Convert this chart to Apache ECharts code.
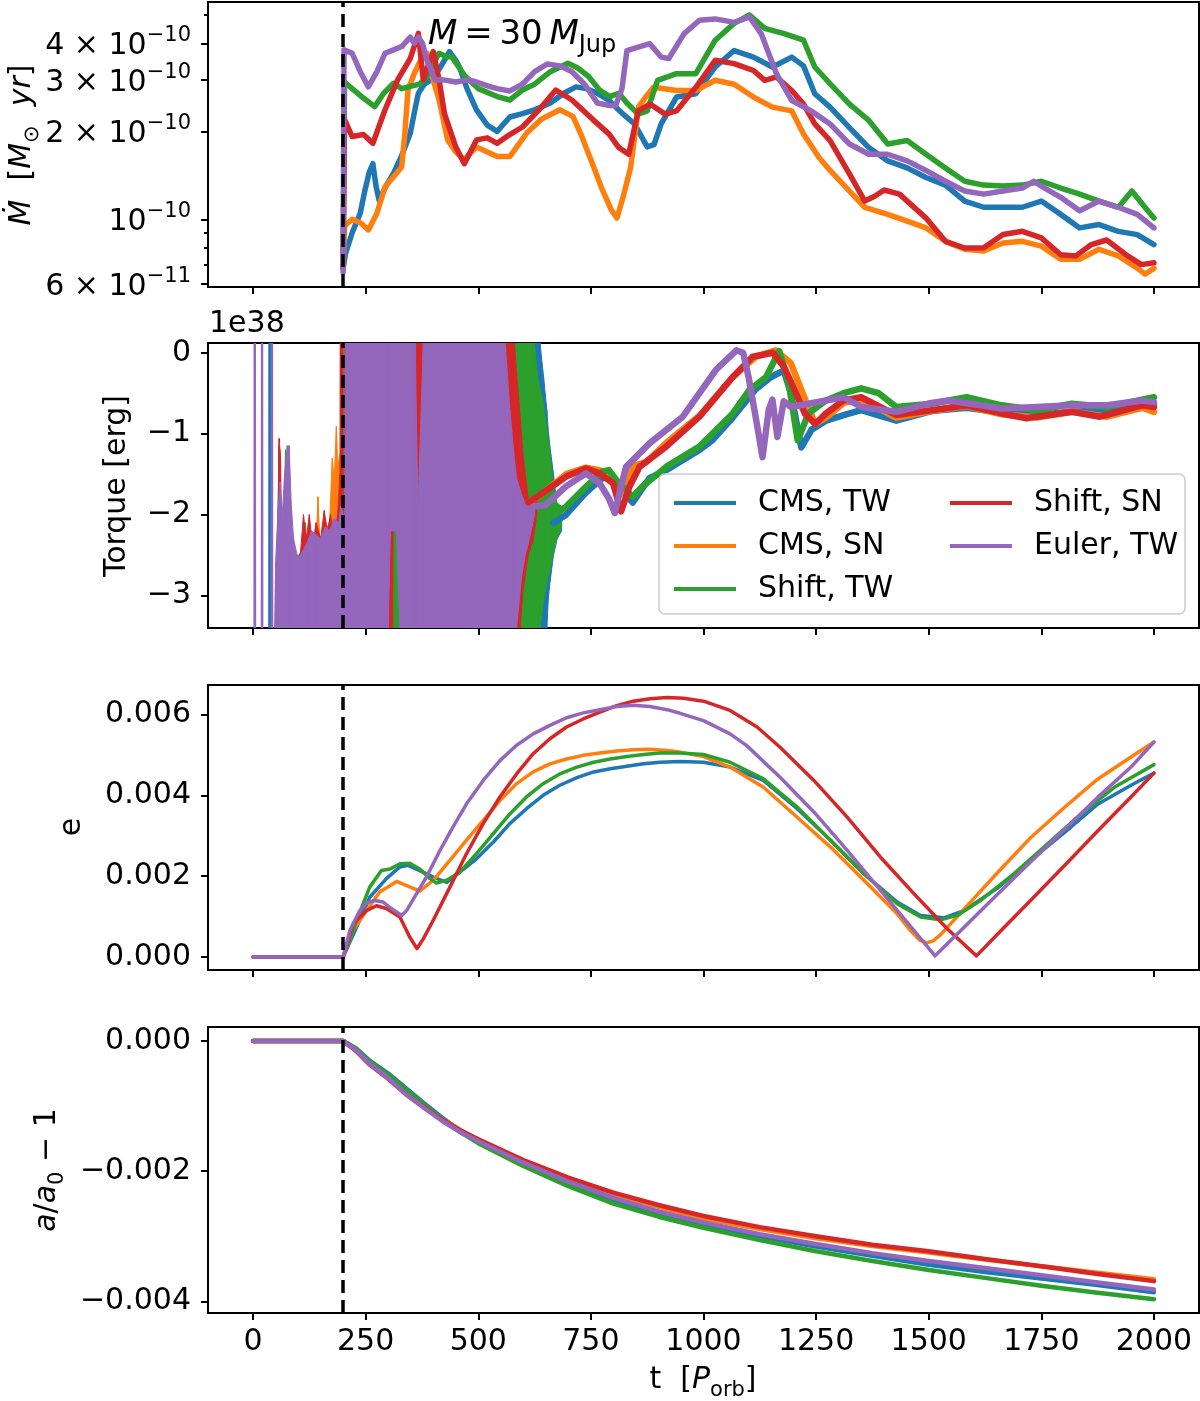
<!DOCTYPE html>
<html><head><meta charset="utf-8">
<script src="https://cdn.jsdelivr.net/npm/echarts@6/dist/echarts.min.js"></script>
<style>html,body{margin:0;padding:0;background:#fff}#c{width:1200px;height:1401px}</style>
</head><body><div id="c"></div>
<script>
// ---------------- DATA ----------------
const seriesNames = ['CMS, TW', 'CMS, SN', 'Shift, TW', 'Shift, SN', 'Euler, TW'];
const tTicks = [0, 250, 500, 750, 1000, 1250, 1500, 1750, 2000];

// Mdot in units of 1e-10 Msun/yr : [t, value]
const mdotUnit = 1e-10;
const mdotCmsTw = [[200,0.68],[205,0.76],[220,0.9],[238,1.05],[248,1.25],[258,1.45],[266,1.55],[273,1.3],[280,1.16],[295,1.3],[312,1.44],[330,1.65],[349,1.97],[360,2.4],[367,2.7],[380,2.9],[395,3.0],[415,3.3],[436,3.75],[450,3.5],[459,3.3],[475,2.8],[496,2.37],[520,2.1],[542,2.0],[570,2.24],[598,2.3],[625,2.37],[660,2.5],[690,2.7],[717,2.84],[740,2.8],[764,2.7],[790,2.55],[819,2.31],[847,2.12],[875,1.77],[890,1.8],[906,2.12],[940,2.62],[983,2.69],[1026,3.32],[1068,3.78],[1111,3.59],[1153,3.32],[1196,3.59],[1222,3.35],[1247,2.69],[1281,2.42],[1324,2.06],[1367,1.76],[1409,1.585],[1452,1.5],[1494,1.39],[1537,1.31],[1580,1.155],[1622,1.1],[1665,1.1],[1708,1.1],[1750,1.155],[1793,1.04],[1835,0.935],[1878,0.96],[1921,0.91],[1963,0.887],[2000,0.82]];
const mdotCmsSn = [[200,0.68],[203,0.95],[220,1.0],[240,0.97],[256,0.92],[275,1.05],[293,1.29],[312,1.4],[330,1.51],[337,1.97],[344,2.77],[358,3.16],[372,3.5],[386,3.7],[400,3.0],[413,2.56],[432,1.87],[450,1.7],[469,1.6],[496,1.77],[520,1.7],[542,1.64],[570,1.64],[607,1.97],[640,2.2],[681,2.37],[710,2.25],[727,1.97],[750,1.6],[773,1.29],[795,1.08],[808,1.01],[822,1.2],[838,1.5],[856,2.43],[870,2.6],[889,2.83],[940,2.76],[983,2.76],[1026,2.99],[1068,2.9],[1111,2.62],[1153,2.42],[1196,2.35],[1222,1.96],[1256,1.63],[1281,1.47],[1324,1.25],[1358,1.1],[1409,1.04],[1452,0.986],[1494,0.935],[1537,0.841],[1580,0.79],[1622,0.78],[1665,0.83],[1708,0.841],[1750,0.81],[1793,0.73],[1835,0.73],[1878,0.79],[1921,0.75],[1963,0.681],[1980,0.65],[2000,0.68]];
const mdotShiftTw = [[200,0.68],[203,2.95],[220,2.8],[245,2.6],[270,2.43],[290,2.7],[312,2.92],[330,2.8],[349,2.85],[370,2.9],[386,3.08],[400,3.4],[413,3.7],[430,3.6],[441,3.6],[470,3.1],[500,2.8],[542,2.63],[570,2.56],[598,2.77],[625,2.9],[660,3.2],[699,3.42],[720,3.3],[745,3.08],[770,2.76],[792,2.63],[812,2.7],[830,2.5],[855,2.29],[875,2.35],[898,2.99],[940,3.15],[983,3.15],[1026,4.1],[1068,4.68],[1102,5.0],[1136,4.5],[1179,4.32],[1222,4.1],[1247,3.32],[1281,2.91],[1324,2.48],[1367,2.18],[1409,1.81],[1452,1.86],[1494,1.67],[1537,1.5],[1580,1.35],[1622,1.31],[1665,1.3],[1708,1.31],[1750,1.35],[1793,1.28],[1835,1.22],[1878,1.155],[1921,1.1],[1951,1.25],[1980,1.1],[2000,1.01]];
const mdotShiftSn = [[200,0.68],[203,2.2],[220,1.92],[245,1.95],[266,1.82],[293,2.37],[321,3.0],[349,3.55],[367,4.33],[378,3.0],[390,3.4],[400,3.75],[413,3.0],[425,2.3],[450,1.77],[469,1.55],[496,1.87],[520,1.9],[542,1.82],[570,1.95],[598,2.07],[635,2.37],[672,2.77],[708,2.56],[755,2.19],[790,1.96],[812,1.76],[834,1.67],[855,2.35],[881,2.48],[915,2.29],[940,2.35],[983,2.83],[1026,3.5],[1068,3.41],[1111,3.23],[1136,2.99],[1162,3.07],[1196,2.76],[1222,2.48],[1247,2.12],[1281,1.86],[1324,1.43],[1358,1.155],[1380,1.2],[1401,1.26],[1435,1.22],[1494,1.01],[1537,0.841],[1580,0.798],[1622,0.8],[1665,0.887],[1708,0.91],[1750,0.864],[1793,0.757],[1827,0.75],[1861,0.82],[1895,0.85],[1938,0.757],[1972,0.7],[2000,0.71]];
const mdotEulerTw = [[200,0.66],[202,3.8],[220,3.7],[238,3.2],[256,2.84],[275,3.2],[293,3.7],[312,3.8],[330,3.9],[349,4.2],[358,4.0],[367,4.2],[376,4.0],[386,3.5],[404,3.0],[423,3.0],[450,2.95],[478,3.0],[496,2.95],[524,2.85],[542,2.8],[570,2.75],[598,2.9],[625,3.2],[653,3.4],[681,3.35],[708,3.2],[736,2.9],[764,2.5],[792,2.45],[805,2.45],[819,2.8],[830,3.78],[855,3.88],[881,3.99],[906,3.59],[923,3.55],[957,4.32],[991,4.8],[1026,4.85],[1068,4.72],[1102,4.93],[1128,4.32],[1162,3.15],[1196,2.55],[1239,2.35],[1281,2.12],[1324,1.81],[1367,1.67],[1409,1.67],[1452,1.585],[1494,1.47],[1537,1.35],[1580,1.25],[1622,1.22],[1665,1.25],[1708,1.28],[1733,1.35],[1750,1.3],[1793,1.19],[1835,1.07],[1878,1.155],[1921,1.1],[1963,1.04],[2000,0.935]];
const mdotLabelTicks = [6e-11, 1e-10, 2e-10, 3e-10, 4e-10];
const mdotMinorTicks = [7e-11, 8e-11, 9e-11, 5e-10];

// Torque in units of 1e38 erg. Bands: [t, low, high] envelope of the fast oscillation; lines: [t, value]
const torqueBandCmsTw = [[35,-5,-5],[36,-5,5],[38,-5,5],[39,-5,-5],[50,-5,-3.4],[58,-5,-1.15],[62,-5,-2.6],[100,-5,-2.6],[200,-5,-2.6],[206,-5,5],[632,-5,5],[637,-5,0.12],[645,-5,-0.3],[652,-3.4,-0.7],[656,-3.0,-1.0],[660,-2.8,-1.2],[667,-2.5,-1.5],[675,-2.3,-1.9],[685,-2.2,-1.95]];
const torqueBandCmsSn = [[50,-5,-3.4],[56,-5,-2.4],[60,-5,-1.2],[63,-5,-2.5],[100,-5,-2.5],[140,-5,-2.4],[144,-5,-1.78],[148,-5,-2.3],[170,-5,-2.1],[176,-5,-1.3],[180,-5,-1.6],[185,-5,-0.91],[188,-5,-1.4],[195,-5,-1.2],[200,-5,-1.6],[206,-5,5],[575,-5,5],[580,-5,0.12],[600,-3.0,-1.3],[611,-2.5,-1.8],[620,-2.2,-1.8]];
const torqueBandShiftTw = [[55,-5,-3.4],[68,-5,-2.6],[72,-5,-1.2],[75,-5,-1.5],[78,-5,-2.7],[95,-5,-2.6],[110,-5,-2.4],[116,-5,-2.1],[120,-5,-2.5],[150,-5,-2.6],[180,-5,-2.4],[200,-5,-2.5],[206,-5,5],[620,-5,5],[624,-5,0.12],[632,-5,-0.3],[637,-3.4,-0.45],[644,-3.1,-0.6],[650,-2.9,-0.85],[656,-2.75,-1.1],[662,-2.6,-1.4],[667,-2.45,-1.66],[674,-2.3,-1.85],[685,-2.15,-1.9]];
const torqueBandShiftSn = [[50,-5,-3.4],[55,-5,-2.5],[58,-5,-1.06],[61,-5,-1.3],[64,-5,-2.6],[70,-5,-2.0],[73,-5,-1.6],[76,-5,-2.2],[85,-5,-2.5],[95,-5,-2.7],[105,-5,-2.5],[112,-5,-2.0],[118,-5,-2.3],[125,-5,-2.0],[132,-5,-2.4],[140,-5,-2.1],[150,-5,-2.3],[158,-5,-1.95],[165,-5,-2.2],[172,-5,-2.0],[180,-5,-2.3],[188,-5,-2.0],[193,-5,-1.5],[195,-5,5],[198,-5,5],[200,-5,-2.0],[203,-5,-2.5],[206,-5,5],[309,-5,5],[311,-2.1,5],[326,-2.1,5],[328,-5,5],[575,-5,5],[580,-5,0.12],[590,-5,-0.6],[593,-3.4,-0.8],[600,-2.9,-1.3],[611,-2.5,-1.8],[622,-2.3,-1.8],[630,-2.0,-1.8]];
const torqueBandEulerTw = [[2,-5,-5],[3,-5,5],[5,-5,5],[6,-5,-5],[18,-5,-5],[19,-5,5],[21,-5,5],[22,-5,-5],[40,-5,-5],[41,-5,5],[43,-5,5],[44,-5,-5],[47,-5,-5],[48,-5,-3.4],[50,-5,-2.6],[55,-5,-2.0],[60,-5,-1.6],[65,-5,-2.0],[70,-5,-1.5],[76,-5,-1.15],[80,-5,-1.15],[85,-5,-1.9],[90,-5,-2.3],[100,-5,-2.55],[110,-5,-2.45],[120,-5,-2.35],[130,-5,-2.2],[140,-5,-2.25],[150,-5,-2.3],[160,-5,-2.15],[170,-5,-2.2],[180,-5,-2.05],[190,-5,-2.1],[195,-5,-1.9],[200,-5,-2.0],[203,-5,-3.0],[206,-5,5],[240,-5,5],[241,-5,-0.3],[243,-5,5],[298,-5,5],[300,-3.4,5],[305,-2.2,5],[318,-2.2,5],[326,-3.4,5],[328,-5,5],[358,-5,5],[360,-5,0.12],[366,-5,-1.95],[378,-5,0.12],[380,-5,5],[555,-5,5],[560,-5,0.1],[570,-5,-0.7],[580,-5,-1.3],[585,-3.4,-1.55],[596,-2.77,-1.75],[604,-2.5,-1.86],[611,-2.36,-1.85],[619,-2.15,-1.8],[625,-2.0,-1.85]];
const torqueCmsTw = [[667,-2.1],[695,-2.0],[740,-1.72],[775,-1.55],[790,-1.52],[810,-1.65],[843,-1.85],[880,-1.55],[917,-1.45],[991,-1.2],[1020,-1.08],[1065,-0.8],[1116,-0.45],[1150,-0.3],[1178,-0.22],[1194,-0.5],[1217,-1.17],[1240,-0.95],[1272,-0.84],[1311,-0.77],[1350,-0.71],[1428,-0.84],[1506,-0.72],[1584,-0.68],[1662,-0.74],[1740,-0.77],[1818,-0.73],[1896,-0.71],[2000,-0.63]];
const torqueCmsSn = [[611,-1.85],[640,-1.75],[695,-1.5],[739,-1.42],[769,-1.45],[799,-1.55],[815,-1.75],[843,-1.4],[873,-1.35],[920,-1.1],[991,-0.78],[1065,-0.3],[1116,-0.05],[1160,0.03],[1194,-0.13],[1220,-0.5],[1248,-0.88],[1272,-0.8],[1311,-0.62],[1350,-0.58],[1428,-0.8],[1506,-0.72],[1584,-0.66],[1662,-0.76],[1740,-0.8],[1818,-0.73],[1896,-0.79],[1974,-0.68],[2000,-0.73]];
const torqueShiftTw = [[670,-2.0],[695,-1.9],[740,-1.65],[775,-1.47],[790,-1.45],[810,-1.6],[843,-1.78],[865,-1.65],[917,-1.41],[991,-1.16],[1065,-0.75],[1102,-0.46],[1139,-0.3],[1168,0.02],[1190,-0.4],[1209,-1.08],[1233,-0.75],[1272,-0.59],[1311,-0.5],[1350,-0.44],[1389,-0.5],[1428,-0.67],[1506,-0.63],[1584,-0.55],[1662,-0.65],[1740,-0.71],[1818,-0.63],[1896,-0.67],[2000,-0.55]];
const torqueShiftSn = [[611,-1.85],[636,-1.76],[695,-1.53],[739,-1.43],[769,-1.49],[799,-1.61],[817,-1.96],[836,-1.65],[858,-1.41],[917,-1.16],[991,-0.79],[1065,-0.3],[1109,-0.05],[1154,0.0],[1178,-0.17],[1199,-0.42],[1225,-0.75],[1248,-0.88],[1272,-0.75],[1311,-0.59],[1350,-0.55],[1428,-0.77],[1506,-0.71],[1584,-0.65],[1662,-0.75],[1717,-0.81],[1818,-0.73],[1880,-0.79],[1974,-0.65],[2000,-0.67]];
const torqueEulerTw = [[622,-1.9],[650,-1.88],[695,-1.65],[739,-1.49],[769,-1.61],[790,-1.8],[803,-1.98],[815,-1.7],[828,-1.41],[880,-1.12],[954,-0.79],[1028,-0.21],[1073,0.03],[1088,0.0],[1100,-0.3],[1116,-0.8],[1131,-1.29],[1145,-0.7],[1153,-0.58],[1164,-1.04],[1178,-0.6],[1194,-0.67],[1233,-0.63],[1272,-0.59],[1311,-0.55],[1350,-0.67],[1428,-0.73],[1506,-0.62],[1545,-0.59],[1662,-0.69],[1740,-0.67],[1818,-0.65],[1896,-0.65],[1974,-0.59],[2000,-0.61]];
const torqueTicks = [0, -1, -2, -3];

// eccentricity
const eCmsTw = [[0,0],[200,0],[230,0.00074],[259,0.00148],[296,0.00194],[326,0.00223],[344,0.00227],[370,0.00214],[400,0.00198],[430,0.00185],[459,0.0021],[496,0.00243],[533,0.00284],[570,0.0033],[607,0.00367],[644,0.004],[681,0.00425],[719,0.00444],[756,0.00458],[793,0.00466],[830,0.00472],[867,0.00478],[904,0.00482],[948,0.00484],[1000,0.00482],[1059,0.0047],[1133,0.00437],[1208,0.00367],[1282,0.00289],[1356,0.00206],[1430,0.00136],[1482,0.00103],[1534,0.00097],[1578,0.00115],[1652,0.0017],[1726,0.0024],[1801,0.00308],[1875,0.00378],[1949,0.00425],[2000,0.00455]];
const eCmsSn = [[0,0],[200,0],[222,0.00066],[252,0.00115],[281,0.00161],[319,0.00187],[341,0.00177],[370,0.00163],[400,0.0019],[437,0.00239],[474,0.00289],[511,0.00338],[548,0.00387],[585,0.00429],[622,0.00458],[659,0.00478],[696,0.0049],[733,0.00499],[770,0.00505],[807,0.0051],[844,0.00513],[881,0.00514],[919,0.00511],[948,0.00507],[1000,0.00496],[1059,0.0047],[1133,0.0042],[1208,0.00346],[1282,0.00272],[1356,0.0019],[1430,0.00107],[1460,0.00065],[1480,0.00042],[1495,0.00035],[1510,0.0004],[1526,0.00055],[1578,0.00118],[1652,0.00208],[1726,0.00295],[1801,0.0037],[1875,0.0044],[1949,0.00495],[2000,0.00532]];
const eShiftTw = [[0,0],[200,0],[230,0.00091],[259,0.00173],[285,0.00214],[304,0.00218],[326,0.00231],[348,0.00232],[370,0.00218],[393,0.00194],[407,0.00183],[430,0.0019],[459,0.0021],[496,0.00256],[533,0.00305],[570,0.00354],[607,0.00396],[644,0.00429],[681,0.00453],[719,0.0047],[756,0.00482],[793,0.0049],[830,0.00496],[867,0.00501],[904,0.00505],[948,0.00505],[1000,0.00501],[1059,0.00482],[1133,0.00441],[1208,0.00371],[1282,0.00289],[1356,0.00206],[1430,0.00132],[1482,0.00099],[1526,0.00092],[1563,0.00103],[1615,0.0014],[1689,0.00206],[1764,0.0028],[1838,0.00354],[1912,0.0042],[2000,0.00476]];
const eShiftSn = [[0,0],[200,0],[222,0.00082],[252,0.00115],[274,0.00127],[296,0.0012],[326,0.00099],[348,0.00049],[364,0.00021],[378,0.00045],[400,0.00091],[437,0.00173],[474,0.00256],[511,0.0033],[548,0.00396],[585,0.00453],[622,0.00503],[659,0.0054],[696,0.00569],[733,0.00589],[770,0.00606],[807,0.00622],[844,0.00633],[881,0.00639],[919,0.00642],[956,0.0064],[1000,0.00633],[1059,0.0061],[1119,0.00569],[1170,0.00519],[1245,0.00437],[1319,0.00346],[1393,0.00247],[1467,0.00157],[1541,0.0007],[1606,0.00003],[1652,0.00056],[1726,0.0014],[1801,0.00226],[1875,0.00312],[1949,0.00396],[2000,0.00455]];
const eEulerTw = [[0,0],[200,0],[215,0.00066],[237,0.00115],[252,0.00134],[270,0.0014],[289,0.00136],[307,0.0012],[330,0.00103],[341,0.00115],[363,0.00157],[385,0.00198],[415,0.00264],[444,0.00322],[474,0.00379],[511,0.00437],[548,0.00486],[585,0.00524],[622,0.00552],[659,0.00573],[696,0.00592],[733,0.00604],[770,0.00612],[807,0.0062],[844,0.00623],[881,0.0062],[919,0.00612],[948,0.00603],[1000,0.00585],[1059,0.00552],[1096,0.00523],[1170,0.00445],[1245,0.00359],[1319,0.00264],[1393,0.00165],[1467,0.00066],[1514,0.00003],[1578,0.00073],[1652,0.00155],[1726,0.00235],[1801,0.00315],[1875,0.00395],[1949,0.0047],[2000,0.00532]];
const eTicks = [0, 0.002, 0.004, 0.006];

// semi-major axis a/a0 - 1
const aCmsTw = [[0,0],[200,0],[230,-0.00012],[260,-0.00031],[300,-0.0005],[340,-0.00073],[380,-0.00096],[420,-0.00118],[460,-0.00138],[500,-0.00155],[600,-0.00189],[700,-0.00219],[800,-0.00245],[900,-0.00265],[1000,-0.00282],[1125,-0.003],[1250,-0.00316],[1375,-0.0033],[1500,-0.00344],[1625,-0.00355],[1750,-0.00365],[1875,-0.00375],[2000,-0.00386]];
const aCmsSn = [[0,0],[200,0],[230,-0.00014],[260,-0.00034],[300,-0.00055],[340,-0.0008],[380,-0.00101],[420,-0.0012],[460,-0.00137],[500,-0.00152],[600,-0.00185],[700,-0.00212],[800,-0.00235],[900,-0.00255],[1000,-0.00273],[1125,-0.00289],[1250,-0.00303],[1375,-0.00315],[1500,-0.00325],[1625,-0.00336],[1750,-0.00346],[1875,-0.00356],[2000,-0.00366]];
const aShiftTw = [[0,0],[200,0],[230,-0.00013],[260,-0.00032],[300,-0.00052],[340,-0.00075],[380,-0.00098],[420,-0.0012],[460,-0.0014],[500,-0.00157],[600,-0.00192],[700,-0.00223],[800,-0.0025],[900,-0.0027],[1000,-0.00287],[1125,-0.00306],[1250,-0.00323],[1375,-0.00338],[1500,-0.00352],[1625,-0.00364],[1750,-0.00376],[1875,-0.00387],[2000,-0.00397]];
const aShiftSn = [[0,0],[200,0],[230,-0.00016],[260,-0.00037],[300,-0.00058],[340,-0.00082],[380,-0.00102],[420,-0.00121],[460,-0.00137],[500,-0.00151],[600,-0.00183],[700,-0.0021],[800,-0.00233],[900,-0.00252],[1000,-0.00269],[1125,-0.00286],[1250,-0.003],[1375,-0.00313],[1500,-0.00323],[1625,-0.00335],[1750,-0.00346],[1875,-0.00358],[2000,-0.00369]];
const aEulerTw = [[0,0],[200,0],[230,-0.00015],[260,-0.00036],[300,-0.00057],[340,-0.00082],[380,-0.00103],[420,-0.00123],[460,-0.0014],[500,-0.00154],[600,-0.00187],[700,-0.00216],[800,-0.00241],[900,-0.00262],[1000,-0.00279],[1125,-0.00297],[1250,-0.00312],[1375,-0.00326],[1500,-0.00338],[1625,-0.00349],[1750,-0.0036],[1875,-0.00371],[2000,-0.00382]];
const aTicks = [0, -0.002, -0.004];

const tRelease = 200;

// ---------------- STYLE / BUILD ----------------
const FONT = 'DejaVu Sans';
const COLORS = ['#1f77b4', '#ff7f0e', '#2ca02c', '#d62728', '#9467bd'];
const mdotSets = [mdotCmsTw, mdotCmsSn, mdotShiftTw, mdotShiftSn, mdotEulerTw];
const torqueBands = [torqueBandCmsTw, torqueBandCmsSn, torqueBandShiftTw, torqueBandShiftSn, torqueBandEulerTw];
const torqueLines = [torqueCmsTw, torqueCmsSn, torqueShiftTw, torqueShiftSn, torqueEulerTw];
const eSets = [eCmsTw, eCmsSn, eShiftTw, eShiftSn, eEulerTw];
const aSets = [aCmsTw, aCmsSn, aShiftTw, aShiftSn, aEulerTw];

const lg = v => Math.log10(v);
const MINUS = '\u2212';
const fmtSigned = (s) => s.replace('-', MINUS);

const grids = [
  {left: 208, width: 991, top: 2, height: 285},
  {left: 208, width: 991, top: 343, height: 285},
  {left: 208, width: 991, top: 685, height: 285},
  {left: 208, width: 991, top: 1027, height: 286}
].map(g => Object.assign(g, {show: true, borderColor: '#000', borderWidth: 2, backgroundColor: 'transparent', containLabel: false}));

const xAxes = [0,1,2,3].map(i => ({
  type: 'value', gridIndex: i, min: -100, max: 2100, position: 'bottom',
  axisLine: {show: false, onZero: false},
  splitLine: {show: false},
  axisTick: {show: true, inside: false, length: 7, lineStyle: {color: '#000', width: 2}, customValues: tTicks},
  axisLabel: {show: i === 3, customValues: tTicks, margin: 14, color: '#000', fontSize: 30, fontFamily: FONT, formatter: v => String(v)}
}));

const yLabelBase = {color: '#000', fontSize: 30, fontFamily: FONT, margin: 17};
const tickBase = len => ({show: true, inside: false, length: len, lineStyle: {color: '#000', width: 2}});
const yLineOff = {show: false, onZero: false};

function mdotLabel(lv) {
  const exp = Math.floor(lv + 1e-9);
  const mant = Math.round(Math.pow(10, lv - exp));
  const e = MINUS + Math.abs(exp);
  return mant === 1 ? '{n|10}{s|' + e + '}' : '{n|' + mant + ' \u00d7 10}{s|' + e + '}';
}

const yAxes = [
  { // Mdot (log10 of values)
    type: 'value', gridIndex: 0, min: lg(5.87e-11), max: lg(5.54e-10), position: 'left',
    axisLine: yLineOff, splitLine: {show: false},
    axisTick: Object.assign(tickBase(7), {customValues: mdotLabelTicks.map(lg)}),
    axisLabel: Object.assign({}, yLabelBase, {customValues: mdotLabelTicks.map(lg), formatter: mdotLabel,
      rich: {n: {fontSize: 30, fontFamily: FONT, color: '#000', lineHeight: 36, verticalAlign: 'bottom'},
             s: {fontSize: 21, fontFamily: FONT, color: '#000', lineHeight: 14, verticalAlign: 'top'}}})
  },
  { // Mdot minor ticks
    type: 'value', gridIndex: 0, min: lg(5.87e-11), max: lg(5.54e-10), position: 'left', offset: 0,
    axisLine: yLineOff, splitLine: {show: false},
    axisTick: Object.assign(tickBase(4), {customValues: mdotMinorTicks.map(lg)}),
    axisLabel: {show: false}
  },
  { // torque
    type: 'value', gridIndex: 1, min: -3.40, max: 0.12, position: 'left',
    axisLine: yLineOff, splitLine: {show: false},
    axisTick: Object.assign(tickBase(7), {customValues: torqueTicks}),
    axisLabel: Object.assign({}, yLabelBase, {customValues: torqueTicks, formatter: v => fmtSigned(String(Math.round(v)))})
  },
  { // e
    type: 'value', gridIndex: 2, min: -0.00032, max: 0.00673, position: 'left',
    axisLine: yLineOff, splitLine: {show: false},
    axisTick: Object.assign(tickBase(7), {customValues: eTicks}),
    axisLabel: Object.assign({}, yLabelBase, {customValues: eTicks, formatter: v => v.toFixed(3)})
  },
  { // a
    type: 'value', gridIndex: 3, min: -0.00418, max: 0.000215, position: 'left',
    axisLine: yLineOff, splitLine: {show: false},
    axisTick: Object.assign(tickBase(7), {customValues: aTicks}),
    axisLabel: Object.assign({}, yLabelBase, {customValues: aTicks, formatter: v => Math.abs(v) < 1e-12 ? '0.000' : fmtSigned(v.toFixed(3))})
  }
];

const vline = {
  silent: true, symbol: ['none', 'none'], label: {show: false}, animation: false,
  lineStyle: {color: '#000', width: 3.5, type: [13, 7]},
  data: [{xAxis: tRelease}]
};

function lineSeries(name, color, data, xi, yi, width, withLine) {
  const s = {
    type: 'line', name, xAxisIndex: xi, yAxisIndex: yi, data,
    showSymbol: false, symbol: 'none', smooth: false, clip: true, animation: false, silent: true,
    itemStyle: {color}, lineStyle: {color, width, cap: 'round', join: 'round'}
  };
  if (withLine) s.markLine = vline;
  return s;
}

function bandSeries(name, color, rows, xi, yi) {
  const segs = [];
  for (let i = 0; i < rows.length - 1; i++) segs.push(rows[i].concat(rows[i + 1]));
  return {
    type: 'custom', name: name + ' band', xAxisIndex: xi, yAxisIndex: yi, clip: true, silent: true, animation: false,
    dimensions: ['t0', 'lo0', 'hi0', 't1', 'lo1', 'hi1'],
    encode: {x: [0, 3], y: [1, 2, 4, 5]},
    data: segs,
    renderItem: (params, api) => {
      const p1 = api.coord([api.value(0), api.value(1)]);
      const p2 = api.coord([api.value(0), api.value(2)]);
      const p3 = api.coord([api.value(3), api.value(5)]);
      const p4 = api.coord([api.value(3), api.value(4)]);
      return {type: 'polygon', shape: {points: [p1, p2, p3, p4]}, style: {fill: color, stroke: color, lineWidth: 1}};
    }
  };
}

const series = [];
// Panel 1
mdotSets.forEach((d, i) => series.push(lineSeries(seriesNames[i], COLORS[i], d.map(p => [p[0], lg(p[1] * mdotUnit)]), 0, 0, 5.5, i === 4)));
// Panel 2
torqueBands.forEach((b, i) => {
  series.push(bandSeries(seriesNames[i], COLORS[i], b, 1, 2));
  series.push(lineSeries(seriesNames[i], COLORS[i], torqueLines[i], 1, 2, 6.5, i === 4));
});
// Panel 3
eSets.forEach((d, i) => series.push(lineSeries(seriesNames[i], COLORS[i], d, 2, 3, 3.5, i === 4)));
// Panel 4
aSets.forEach((d, i) => series.push(lineSeries(seriesNames[i], COLORS[i], d, 3, 4, 4.5, i === 4)));

const legendCommon = {
  orient: 'vertical', top: 483, itemWidth: 62, itemHeight: 4, itemGap: 13, icon: 'rect', selectedMode: false, z: 60,
  textStyle: {fontSize: 30, fontFamily: FONT, color: '#000', lineHeight: 30, padding: [0, 0, 0, 17]}
};
const legends = [
  Object.assign({}, legendCommon, {left: 669, data: seriesNames.slice(0, 3)}),
  Object.assign({}, legendCommon, {left: 945, data: seriesNames.slice(3, 5)})
];

const richMath = (size) => ({
  n: {fontSize: size, fontFamily: FONT, lineHeight: size + 6, verticalAlign: 'top', fill: '#000'},
  i: {fontSize: size, fontFamily: FONT, fontStyle: 'italic', lineHeight: size + 6, verticalAlign: 'top', fill: '#000'},
  sub: {fontSize: Math.round(size * 0.7), fontFamily: FONT, lineHeight: Math.round(size * 0.6), verticalAlign: 'bottom', fill: '#000'}
});

const graphics = [
  {type: 'rect', z: 50, shape: {x: 659, y: 474, width: 526, height: 140, r: 6},
   style: {fill: 'rgba(255,255,255,0.8)', stroke: '#cccccc', lineWidth: 1.5}},
  {type: 'text', z: 70, x: 25, y: 145, rotation: Math.PI / 2,
   style: {text: '{i|\u1E40}{n|  [}{i|M}{sub|\u2299}{n|  }{i|yr}{n|]}', rich: richMath(30), align: 'center', verticalAlign: 'middle'}},
  {type: 'text', z: 70, x: 117, y: 486, rotation: Math.PI / 2,
   style: {text: 'Torque [erg]', fontSize: 30, fontFamily: FONT, fill: '#000', align: 'center', verticalAlign: 'middle'}},
  {type: 'text', z: 70, x: 72, y: 827, rotation: Math.PI / 2,
   style: {text: 'e', fontSize: 30, fontFamily: FONT, fill: '#000', align: 'center', verticalAlign: 'middle'}},
  {type: 'text', z: 70, x: 50, y: 1170, rotation: Math.PI / 2,
   style: {text: '{i|a}{n|/}{i|a}{sub|0}{n| \u2212 1}', rich: richMath(30), align: 'center', verticalAlign: 'middle'}},
  {type: 'text', z: 70, x: 703, y: 1383,
   style: {text: '{n|t  [}{i|P}{sub|orb}{n|]}', rich: richMath(30), align: 'center', verticalAlign: 'middle'}},
  {type: 'text', z: 70, x: 209, y: 324,
   style: {text: '1e38', fontSize: 30, fontFamily: FONT, fill: '#000', align: 'left', verticalAlign: 'middle'}},
  {type: 'text', z: 70, x: 428, y: 38,
   style: {text: '{i|M}{n|\u2009=\u200930\u2009}{i|M}{sub|Jup}', rich: richMath(34), align: 'left', verticalAlign: 'middle'}}
];

const chart = echarts.init(document.getElementById('c'), null, {renderer: 'canvas'});
chart.setOption({
  backgroundColor: '#ffffff',
  animation: false,
  textStyle: {fontFamily: FONT},
  grid: grids,
  xAxis: xAxes,
  yAxis: yAxes,
  legend: legends,
  series: series,
  graphic: {elements: graphics}
});
</script></body></html>
